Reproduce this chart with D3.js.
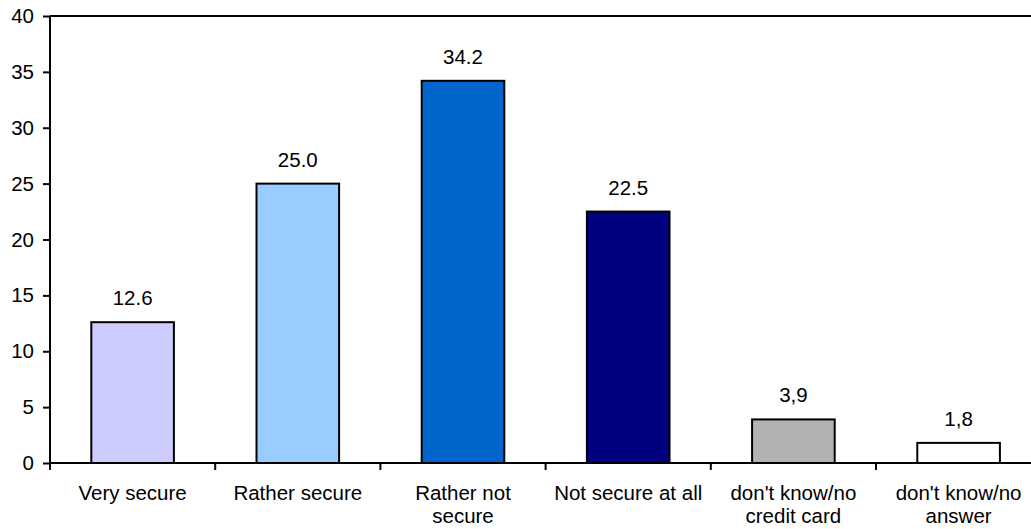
<!DOCTYPE html>
<html>
<head>
<meta charset="utf-8">
<script src="https://cdn.jsdelivr.net/npm/d3@7/dist/d3.min.js"></script>
<style>
  html, body { margin: 0; padding: 0; background: #fff; }
  svg { display: block; }
  text { font-family: "Liberation Sans", Arial, sans-serif; fill: #000; }
</style>
</head>
<body>
<svg id="chart" width="1031" height="529"></svg>
<script>
// Survey answers: how secure is paying by credit card online (%)
const categories = [
  ["Very secure"],
  ["Rather secure"],
  ["Rather not", "secure"],
  ["Not secure at all"],
  ["don't know/no", "credit card"],
  ["don't know/no", "answer"]
];
const values = [12.6, 25.0, 34.2, 22.5, 3.9, 1.8];
const valueLabels = ["12.6", "25.0", "34.2", "22.5", "3,9", "1,8"];
const colors = ["#CCCCFF", "#99CCFF", "#0066CC", "#000080", "#B2B2B2", "#FFFFFF"];
const yTicks = [0, 5, 10, 15, 20, 25, 30, 35, 40];

const svg = d3.select("#chart");
const plotLeft = 50, plotTop = 16, plotBottom = 463, bandW = 165.2;
const fontSize = 20.5;
const keys = categories.map((c, i) => i);

const x = d3.scaleBand()
  .domain(keys)
  .range([plotLeft, plotLeft + bandW * keys.length])
  .paddingInner(0.5)
  .paddingOuter(0.25);

const y = d3.scaleLinear().domain([0, 40]).range([plotBottom, plotTop]);

// plot frame top edge
svg.append("line")
  .attr("x1", plotLeft).attr("x2", 1031)
  .attr("y1", y(40)).attr("y2", y(40))
  .attr("stroke", "#000").attr("stroke-width", 2);

// bars
svg.append("g").selectAll("rect")
  .data(values)
  .join("rect")
  .attr("x", (d, i) => x(i))
  .attr("y", d => y(d))
  .attr("width", x.bandwidth())
  .attr("height", d => y(0) - y(d))
  .attr("fill", (d, i) => colors[i])
  .attr("stroke", "#000")
  .attr("stroke-width", 2);

// value labels
svg.append("g").selectAll("text")
  .data(values)
  .join("text")
  .attr("x", (d, i) => x(i) + x.bandwidth() / 2)
  .attr("y", d => y(d) - 17)
  .attr("text-anchor", "middle")
  .attr("font-size", fontSize)
  .text((d, i) => valueLabels[i]);

// y axis
const yAxis = svg.append("g")
  .attr("transform", `translate(${plotLeft},0)`)
  .call(d3.axisLeft(y).tickValues(yTicks).tickSize(7).tickPadding(9).tickFormat(d3.format("d")));
yAxis.select(".domain").attr("stroke", "#000").attr("stroke-width", 2).attr("d", `M0,${y(40)}V${y(0)}`);
yAxis.selectAll(".tick line").attr("stroke", "#000").attr("stroke-width", 2);
yAxis.selectAll(".tick text").attr("font-size", fontSize).attr("font-family", "Liberation Sans, Arial, sans-serif").attr("fill", "#000");

// x axis with ticks at category boundaries
const xg = svg.append("g").attr("transform", `translate(0,${plotBottom})`);
xg.append("line")
  .attr("x1", plotLeft).attr("x2", 1031)
  .attr("stroke", "#000").attr("stroke-width", 2);
xg.selectAll("line.tk")
  .data(d3.range(keys.length + 1))
  .join("line")
  .attr("class", "tk")
  .attr("x1", i => plotLeft + i * x.step())
  .attr("x2", i => plotLeft + i * x.step())
  .attr("y1", 0).attr("y2", 7)
  .attr("stroke", "#000").attr("stroke-width", 2);

// category labels
const cat = svg.append("g").selectAll("text")
  .data(categories)
  .join("text")
  .attr("x", (d, i) => x(i) + x.bandwidth() / 2)
  .attr("y", 500)
  .attr("text-anchor", "middle")
  .attr("font-size", fontSize);
cat.selectAll("tspan")
  .data(d => d)
  .join("tspan")
  .attr("x", function () { return d3.select(this.parentNode).attr("x"); })
  .attr("dy", (d, j) => j === 0 ? 0 : 23)
  .text(d => d);
</script>
</body>
</html>
